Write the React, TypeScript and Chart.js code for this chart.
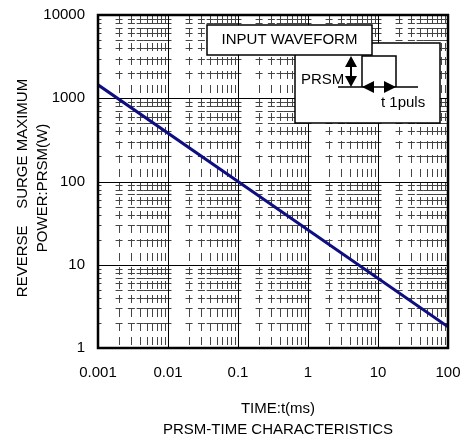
import React, { useEffect, useRef } from 'react';
import { Chart, registerables } from 'chart.js';

Chart.register(...registerables);

// ---- data ----
const timeMs = [0.001, 0.1, 100];
const powerW = [1450, 100, 1.8];
const xTickLabels = ['0.001', '0.01', '0.1', '1', '10', '100'];
const yTickLabels = ['1', '10', '100', '1000', '10000'];
const xExponents = [-3, -2, -1, 0, 1, 2];
const yExponents = [0, 1, 2, 3, 4];
const xTitle = 'TIME:t(ms)';
const chartTitle = 'PRSM-TIME CHARACTERISTICS';
const yTitleLines = ['REVERSE    SURGE MAXIMUM', 'POWER:PRSM(W)'];
const insetTitle = 'INPUT WAVEFORM';
const insetPulseLabel = 'PRSM';
const insetTimeLabel = 't 1puls';

const FONT = '"Liberation Sans", Arial, sans-serif';
const W = 467;
const H = 441;

function labelFor(v: number, exps: number[], labels: string[]) {
  const l = Math.log10(v);
  const r = Math.round(l);
  if (Math.abs(l - r) < 1e-6) {
    const i = exps.indexOf(r);
    if (i >= 0) return labels[i];
  }
  return '';
}

function allValues(exps: number[]) {
  const out: number[] = [];
  for (let i = 0; i < exps.length - 1; i++) {
    for (let k = 1; k <= 9; k++) out.push(k * Math.pow(10, exps[i]));
  }
  out.push(Math.pow(10, exps[exps.length - 1]));
  return out;
}

const zeroPad = (s: any) => {
  s.paddingTop = 0;
  s.paddingBottom = 0;
  s.paddingLeft = 0;
  s.paddingRight = 0;
};

const gridPlugin = {
  id: 'logGrid',
  beforeDatasetsDraw(chart: any) {
    const { ctx, chartArea: a, scales } = chart;
    const xs = scales.x;
    const ys = scales.y;
    const xv = allValues(xExponents);
    const yv = allValues(yExponents);
    const isMajor = (v: number) => Math.abs(Math.log10(v) - Math.round(Math.log10(v))) < 1e-6;
    ctx.save();
    ctx.beginPath();
    ctx.rect(a.left, a.top, a.right - a.left, a.bottom - a.top);
    ctx.clip();
    // minor verticals
    ctx.strokeStyle = '#444';
    ctx.lineWidth = 1;
    ctx.setLineDash([8, 6]);
    ctx.beginPath();
    for (const v of xv) {
      if (isMajor(v)) continue;
      const px = Math.round(xs.getPixelForValue(v)) + 0.5;
      ctx.moveTo(px, a.bottom - 3);
      ctx.lineTo(px, a.top);
    }
    ctx.stroke();
    // minor horizontals: short dashes centred on the verticals
    ctx.setLineDash([]);
    ctx.beginPath();
    for (const v of yv) {
      if (isMajor(v)) continue;
      const py = Math.round(ys.getPixelForValue(v)) + 0.5;
      for (const u of xv) {
        const px = xs.getPixelForValue(u);
        ctx.moveTo(px - 3.5, py);
        ctx.lineTo(px + 3.5, py);
      }
    }
    ctx.stroke();
    // major lines
    ctx.strokeStyle = '#000';
    ctx.lineWidth = 1;
    ctx.beginPath();
    for (const v of xv) {
      if (!isMajor(v)) continue;
      const px = Math.round(xs.getPixelForValue(v)) + 0.5;
      ctx.moveTo(px, a.bottom);
      ctx.lineTo(px, a.top);
    }
    for (const v of yv) {
      if (!isMajor(v)) continue;
      const py = Math.round(ys.getPixelForValue(v)) + 0.5;
      ctx.moveTo(a.left, py);
      ctx.lineTo(a.right, py);
    }
    ctx.stroke();
    ctx.restore();
  },
  afterDatasetsDraw(chart: any) {
    const { ctx, chartArea: a } = chart;
    ctx.save();
    ctx.strokeStyle = '#000';
    ctx.lineWidth = 2.5;
    ctx.strokeRect(a.left, a.top, a.right - a.left, a.bottom - a.top);
    ctx.restore();
  },
  afterDraw(chart: any) {
    const { ctx, chartArea: a } = chart;
    ctx.save();
    ctx.fillStyle = '#000';
    ctx.font = `15px ${FONT}`;
    // titles
    const cx = (a.left + a.right) / 2 + 5;
    ctx.textAlign = 'center';
    ctx.textBaseline = 'middle';
    ctx.fillText(xTitle, cx, 409);
    ctx.fillText(chartTitle, cx, 430);
    ctx.save();
    ctx.translate(23, 188);
    ctx.rotate(-Math.PI / 2);
    ctx.fillText(yTitleLines[0], 0, 0);
    ctx.fillText(yTitleLines[1], 0, 20);
    ctx.restore();

    // inset: waveform box
    ctx.lineWidth = 1.5;
    ctx.fillStyle = '#fff';
    ctx.fillRect(295, 43, 145, 80);
    ctx.strokeRect(295, 43, 145, 80);
    // pulse
    ctx.beginPath();
    ctx.moveTo(338, 87);
    ctx.lineTo(418, 87);
    ctx.moveTo(362, 87);
    ctx.lineTo(362, 56);
    ctx.lineTo(396, 56);
    ctx.lineTo(396, 87);
    ctx.stroke();
    // vertical double arrow
    ctx.fillStyle = '#000';
    ctx.lineWidth = 2;
    ctx.beginPath();
    ctx.moveTo(351, 62);
    ctx.lineTo(351, 81);
    ctx.stroke();
    ctx.beginPath();
    ctx.moveTo(351, 56);
    ctx.lineTo(345, 67);
    ctx.lineTo(357, 67);
    ctx.closePath();
    ctx.moveTo(351, 87);
    ctx.lineTo(345, 76);
    ctx.lineTo(357, 76);
    ctx.closePath();
    ctx.fill();
    // horizontal double arrow
    ctx.beginPath();
    ctx.moveTo(362, 87);
    ctx.lineTo(374, 81);
    ctx.lineTo(374, 93);
    ctx.closePath();
    ctx.moveTo(396, 87);
    ctx.lineTo(384, 81);
    ctx.lineTo(384, 93);
    ctx.closePath();
    ctx.fill();
    ctx.textAlign = 'left';
    ctx.fillText(insetPulseLabel, 301, 80);
    ctx.fillText(insetTimeLabel, 381, 103);

    // inset: title box
    ctx.lineWidth = 1.5;
    ctx.fillStyle = '#fff';
    ctx.fillRect(207, 25, 165, 30);
    ctx.strokeRect(207, 25, 165, 30);
    ctx.fillStyle = '#000';
    ctx.textAlign = 'center';
    ctx.fillText(insetTitle, 289.5, 40);
    ctx.restore();
  },
};

export default function App() {
  const ref = useRef<HTMLCanvasElement | null>(null);
  useEffect(() => {
    document.body.style.margin = '0';
    if (!ref.current) return;
    const chart = new Chart(ref.current, {
      type: 'line',
      data: {
        datasets: [
          {
            data: timeMs.map((t, i) => ({ x: t, y: powerW[i] })),
            borderColor: '#0e0e82',
            borderWidth: 3,
            pointRadius: 0,
            tension: 0,
            fill: false,
          },
        ],
      },
      options: {
        animation: false,
        responsive: false,
        devicePixelRatio: 1,
        layout: { padding: { left: 0, right: 19, top: 15, bottom: 0 } },
        plugins: { legend: { display: false }, tooltip: { enabled: false } },
        scales: {
          x: {
            type: 'logarithmic',
            min: 0.001,
            max: 100,
            grid: { display: false, drawTicks: false },
            border: { display: false },
            afterFit: (s: any) => {
              s.height = H - 348;
              zeroPad(s);
            },
            ticks: {
              autoSkip: false,
              maxRotation: 0,
              padding: 16,
              color: '#000',
              font: { family: FONT, size: 15 },
              callback: (v: any) => labelFor(Number(v), xExponents, xTickLabels),
            },
          },
          y: {
            type: 'logarithmic',
            min: 1,
            max: 10000,
            grid: { display: false, drawTicks: false },
            border: { display: false },
            afterFit: (s: any) => {
              s.width = 98;
              zeroPad(s);
            },
            ticks: {
              autoSkip: false,
              padding: 13,
              color: '#000',
              font: { family: FONT, size: 15 },
              callback: (v: any) => labelFor(Number(v), yExponents, yTickLabels),
            },
          },
        },
      },
      plugins: [gridPlugin],
    });
    return () => chart.destroy();
  }, []);
  return (
    <div style={{ position: 'fixed', left: 0, top: 0, width: W, height: H }}>
      <canvas ref={ref} width={W} height={H} style={{ width: W, height: H }} />
    </div>
  );
}
